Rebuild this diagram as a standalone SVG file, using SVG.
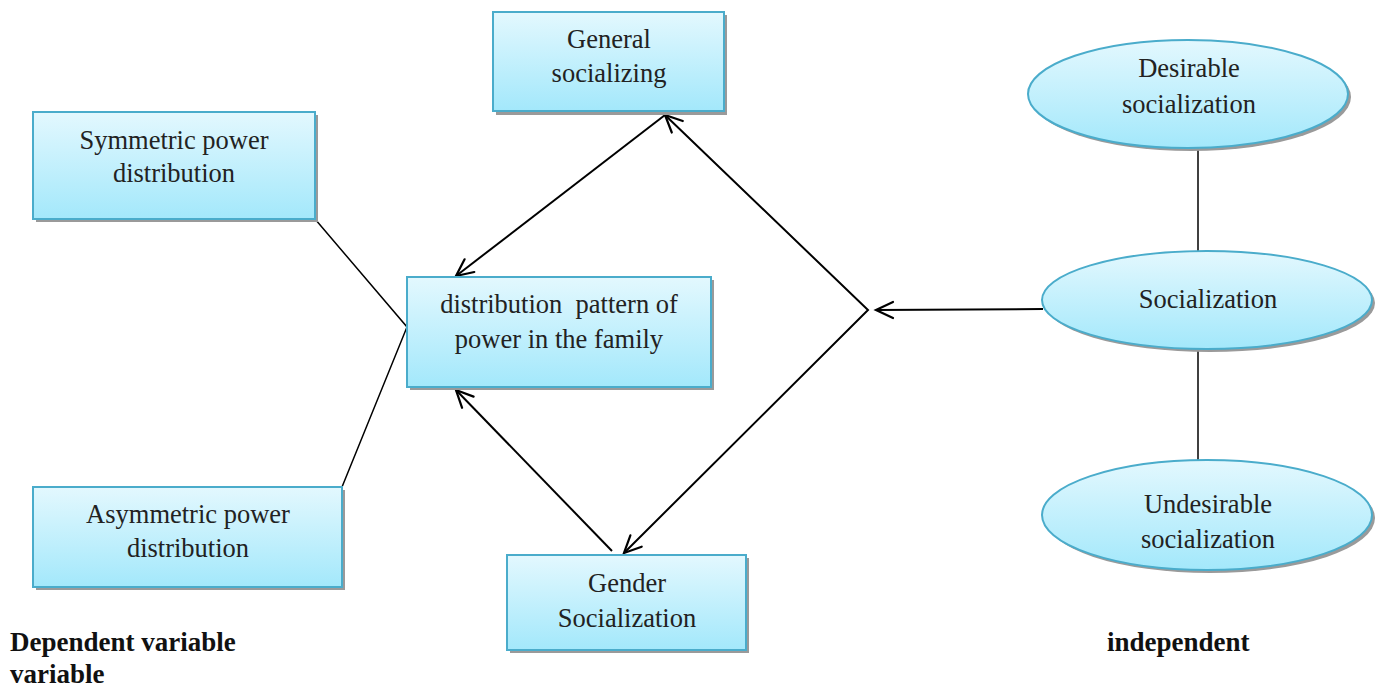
<svg xmlns="http://www.w3.org/2000/svg" width="1381" height="689" viewBox="0 0 1381 689">
<defs>
<linearGradient id="g" x1="0" y1="0" x2="0" y2="1">
<stop offset="0" stop-color="#e3f8fe"/>
<stop offset="1" stop-color="#a3e8fb"/>
</linearGradient>
</defs>
<style>
.box{fill:url(#g);stroke:#4aaccb;stroke-width:2}
.sh{fill:#9a9a9a}
.t{font-family:"Liberation Serif","Times New Roman","DejaVu Serif",serif;font-size:26.5px;fill:#222;text-anchor:middle}
.b{font-family:"Liberation Serif","Times New Roman","DejaVu Serif",serif;font-size:27px;font-weight:bold;fill:#111}
.ln{stroke:#000;stroke-width:1.5;fill:none}
.ar{stroke:#000;stroke-width:2;fill:none}
.hd{stroke:#000;stroke-width:2.2;fill:none;stroke-linecap:round}
</style>
<g id="connectors">
<polyline class="ln" points="315,219 407,327 342,487"/>
<line class="ln" x1="1198" y1="148" x2="1198" y2="262"/>
<line class="ln" x1="1198" y1="350" x2="1198" y2="462"/>
<polyline class="ar" points="665,115 868,310 624,553"/>
<line class="ar" x1="665" y1="115" x2="456" y2="276"/>
<line class="ar" x1="612" y1="551" x2="456" y2="390"/>
<line class="ar" x1="1043" y1="309" x2="876" y2="310"/>
<polyline class="hd" points="682.8,121.0 665,115 671.8,132.5"/>
<polyline class="hd" points="641.7,546.7 624,553 630.4,535.3"/>
<polyline class="hd" points="464.6,259.3 456,276 474.3,272.0"/>
<polyline class="hd" points="473.6,396.6 456,390 462.1,407.8"/>
<polyline class="hd" points="893,302 876,310 893,318"/>
</g>
<g id="general">
<rect class="sh" x="496" y="15" width="231" height="100"/>
<rect class="box" x="493" y="12" width="231" height="99"/>
<text class="t" x="609" y="48">General</text>
<text class="t" x="609" y="82">socializing</text>
</g>
<g id="symmetric">
<rect class="sh" x="36" y="115" width="282" height="107"/>
<rect class="box" x="33" y="112" width="282" height="107"/>
<text class="t" x="174" y="149">Symmetric power</text>
<text class="t" x="174" y="182">distribution</text>
</g>
<g id="asymmetric">
<rect class="sh" x="36" y="490" width="309" height="100"/>
<rect class="box" x="33" y="487" width="309" height="100"/>
<text class="t" x="188" y="523">Asymmetric power</text>
<text class="t" x="188" y="557">distribution</text>
</g>
<g id="distribution">
<rect class="sh" x="410" y="280" width="304" height="110"/>
<rect class="box" x="407" y="277" width="304" height="110"/>
<text class="t" x="559" y="313" xml:space="preserve">distribution  pattern of</text>
<text class="t" x="559" y="348">power in the family</text>
</g>
<g id="gender">
<rect class="sh" x="510" y="558" width="239" height="95"/>
<rect class="box" x="507" y="555" width="239" height="95"/>
<text class="t" x="627" y="592">Gender</text>
<text class="t" x="627" y="627">Socialization</text>
</g>
<g id="desirable">
<ellipse class="sh" cx="1191" cy="97" rx="160" ry="54"/>
<ellipse class="box" cx="1188" cy="94" rx="160" ry="54"/>
<text class="t" x="1189" y="77">Desirable</text>
<text class="t" x="1189" y="113">socialization</text>
</g>
<g id="socialization">
<ellipse class="sh" cx="1210" cy="303" rx="165" ry="49"/>
<ellipse class="box" cx="1207" cy="300" rx="165" ry="49"/>
<text class="t" x="1208" y="308">Socialization</text>
</g>
<g id="undesirable">
<ellipse class="sh" cx="1210" cy="518" rx="165" ry="55"/>
<ellipse class="box" cx="1207" cy="515" rx="165" ry="55"/>
<text class="t" x="1208" y="513">Undesirable</text>
<text class="t" x="1208" y="548">socialization</text>
</g>
<g id="labels">
<text class="b" x="10" y="651">Dependent variable</text>
<text class="b" x="10" y="683">variable</text>
<text class="b" x="1107" y="651">independent</text>
</g>
</svg>
